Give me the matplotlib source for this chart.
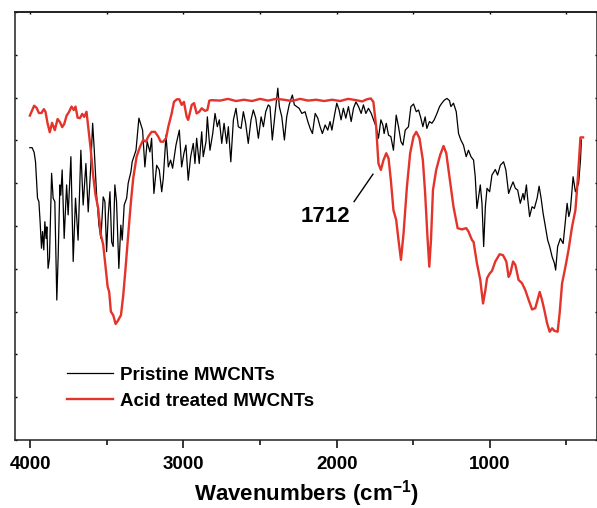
import matplotlib
matplotlib.use("Agg")
import matplotlib.pyplot as plt

plt.rcParams["font.family"] = ["Liberation Sans", "DejaVu Sans"]
plt.rcParams["font.weight"] = "bold"
plt.rcParams["mathtext.fontset"] = "custom"
plt.rcParams["mathtext.rm"] = "Liberation Sans:bold"
plt.rcParams["mathtext.bf"] = "Liberation Sans:bold"

# --- FTIR spectra (wavenumber cm-1, transmittance a.u.) ---
pristine_wn = [4003, 3988, 3975, 3966, 3958, 3953, 3944, 3936, 3927, 3920,
               3912, 3905, 3897, 3892, 3884, 3875, 3861, 3851, 3840, 3827,
               3818, 3807, 3801, 3792, 3779, 3763, 3753, 3735, 3720, 3705,
               3688, 3670, 3655, 3637, 3622, 3605, 3593, 3583, 3567, 3552,
               3539, 3524, 3513, 3502, 3491, 3480, 3469, 3459, 3448, 3437,
               3422, 3409, 3400, 3387, 3371, 3361, 3343, 3335, 3310, 3291,
               3267, 3252, 3237, 3219, 3208, 3193, 3175, 3158, 3142, 3132,
               3114, 3099, 3084, 3071, 3049, 3027, 3012, 2997, 2984, 2969,
               2953, 2936, 2925, 2914, 2897, 2881, 2871, 2853, 2844, 2827,
               2809, 2794, 2779, 2766, 2750, 2735, 2718, 2707, 2691, 2674,
               2657, 2642, 2624, 2609, 2594, 2577, 2559, 2544, 2528, 2511,
               2493, 2478, 2463, 2446, 2435, 2420, 2402, 2384, 2374, 2358,
               2341, 2326, 2310, 2297, 2289, 2276, 2260, 2245, 2227, 2206,
               2188, 2173, 2158, 2140, 2123, 2108, 2093, 2075, 2058, 2043,
               2031, 2014, 1999, 1984, 1971, 1956, 1940, 1923, 1905, 1890,
               1874, 1857, 1840, 1825, 1809, 1792, 1774, 1759, 1742, 1727,
               1711, 1698, 1690, 1676, 1661, 1646, 1629, 1611, 1596, 1580,
               1567, 1552, 1531, 1515, 1498, 1480, 1465, 1450, 1437, 1422,
               1411, 1394, 1378, 1363, 1345, 1328, 1313, 1297, 1280, 1263,
               1254, 1237, 1219, 1204, 1189, 1172, 1154, 1139, 1123, 1106,
               1095, 1084, 1073, 1062, 1051, 1040, 1029, 1018, 1001, 986,
               964, 949, 931, 910, 895, 877, 861, 848, 833, 818,
               801, 783, 775, 761, 753, 740, 724, 709, 691, 678,
               665, 652, 637, 622, 609, 593, 578, 570, 557, 539,
               521, 506, 495, 484, 474, 456, 441, 420, 408, 402]
pristine_t = [68.3, 68.3, 67.2, 65.0, 60.0, 56.5, 55.7, 51.0, 44.8, 48.7,
              44.4, 51.0, 47.1, 49.8, 40.1, 42.4, 62.3, 56.5, 55.7, 32.7,
              43.2, 59.6, 57.2, 63.1, 47.1, 59.6, 52.6, 66.2, 41.7, 56.5,
              46.7, 67.7, 54.9, 64.6, 53.3, 64.2, 74.0, 68.1, 57.2, 50.2,
              47.1, 56.8, 55.7, 44.0, 52.6, 58.0, 46.3, 45.2, 59.6, 55.7,
              40.1, 50.2, 46.7, 54.9, 56.5, 60.0, 62.7, 65.0, 67.7, 75.2,
              72.4, 63.8, 69.7, 67.3, 70.5, 57.6, 64.2, 63.1, 58.0, 61.1,
              71.2, 63.8, 65.4, 63.5, 68.9, 72.4, 63.8, 67.0, 68.9, 60.7,
              66.2, 69.3, 64.6, 70.5, 64.6, 72.0, 66.2, 69.7, 75.5, 67.7,
              71.6, 76.3, 73.2, 74.8, 69.3, 74.0, 69.3, 73.2, 65.0, 74.8,
              77.5, 73.2, 72.8, 76.7, 74.0, 69.3, 74.8, 77.1, 75.2, 70.5,
              75.5, 73.2, 76.7, 78.3, 77.9, 70.1, 76.3, 82.2, 77.9, 75.5,
              70.1, 75.5, 78.3, 79.8, 80.6, 78.3, 77.9, 77.5, 76.3, 76.7,
              74.4, 72.8, 71.6, 76.3, 75.2, 73.2, 71.6, 73.6, 72.4, 74.4,
              72.4, 75.9, 78.7, 77.1, 74.8, 77.5, 75.2, 77.9, 74.4, 77.5,
              79.0, 77.9, 76.3, 78.3, 76.3, 77.5, 76.3, 74.8, 73.2, 70.5,
              74.8, 73.6, 71.6, 74.0, 71.2, 70.9, 67.7, 75.9, 73.2, 69.7,
              68.9, 72.4, 73.2, 77.9, 78.5, 76.7, 77.1, 75.2, 73.2, 75.5,
              72.8, 74.4, 74.0, 74.8, 76.3, 77.9, 78.7, 79.4, 79.8, 79.3,
              77.9, 78.7, 76.7, 71.6, 70.1, 68.9, 66.2, 67.7, 66.2, 65.4,
              61.5, 54.1, 56.8, 59.6, 55.3, 45.2, 54.5, 58.8, 58.0, 61.9,
              63.2, 61.9, 64.2, 65.0, 63.1, 57.6, 59.2, 60.3, 58.8, 58.4,
              55.3, 57.6, 56.1, 59.6, 56.5, 52.2, 54.5, 54.1, 56.5, 59.3,
              56.5, 53.0, 49.8, 46.7, 45.2, 42.8, 41.3, 39.7, 45.2, 47.1,
              45.9, 51.4, 55.3, 52.2, 53.7, 61.5, 58.0, 60.0, 65.4, 70.1]

acid_wn = [4003, 3975, 3959, 3944, 3927, 3912, 3901, 3888, 3873, 3858,
           3840, 3822, 3807, 3792, 3779, 3763, 3748, 3731, 3716, 3705,
           3691, 3676, 3661, 3648, 3633, 3622, 3605, 3590, 3574, 3557,
           3539, 3524, 3508, 3495, 3485, 3474, 3459, 3443, 3426, 3408,
           3393, 3378, 3361, 3343, 3328, 3306, 3284, 3263, 3245, 3230,
           3208, 3186, 3165, 3149, 3132, 3114, 3099, 3077, 3062, 3044,
           3027, 3012, 2997, 2979, 2969, 2946, 2931, 2914, 2897, 2881,
           2859, 2844, 2831, 2816, 2761, 2709, 2657, 2605, 2552, 2500,
           2448, 2395, 2343, 2291, 2239, 2186, 2134, 2082, 2029, 1977,
           1925, 1872, 1833, 1803, 1777, 1760, 1742, 1727, 1711, 1694,
           1676, 1661, 1646, 1629, 1611, 1596, 1580, 1563, 1541, 1520,
           1498, 1480, 1459, 1437, 1422, 1407, 1395, 1384, 1371, 1350,
           1324, 1302, 1284, 1263, 1237, 1210, 1182, 1154, 1139, 1116,
           1106, 1084, 1062, 1044, 1029, 1018, 1001, 986, 964, 936,
           914, 892, 877, 866, 848, 833, 812, 789, 768, 746,
           724, 703, 674, 659, 644, 626, 609, 593, 578, 557,
           544, 528, 506, 486, 463, 441, 426, 408, 391]
acid_t = [75.8, 78.1, 77.6, 76.4, 76.4, 77.3, 76.7, 74.1, 71.9, 74.1,
          72.4, 75.0, 74.3, 73.1, 73.8, 75.8, 76.6, 77.9, 77.1, 77.9,
          75.3, 75.2, 76.2, 75.5, 76.7, 73.2, 67.7, 61.9, 57.2, 54.2,
          47.9, 45.6, 40.2, 35.8, 34.6, 30.0, 29.2, 27.1, 28.0, 29.2,
          33.9, 40.2, 47.9, 55.7, 61.2, 66.2, 68.5, 70.1, 69.7, 70.9,
          72.0, 72.0, 70.9, 69.7, 69.7, 70.5, 73.2, 76.3, 79.0, 79.6,
          79.6, 78.3, 79.0, 75.5, 74.8, 78.3, 78.7, 76.3, 76.7, 77.5,
          76.9, 77.1, 79.3, 79.4, 79.3, 79.7, 79.2, 79.5, 79.2, 79.7,
          79.3, 79.7, 79.5, 79.2, 79.7, 79.3, 79.5, 79.2, 79.5, 79.2,
          79.7, 79.4, 79.1, 79.6, 79.8, 79.0, 73.2, 64.6, 63.1, 65.4,
          67.0, 65.8, 60.7, 53.7, 51.4, 46.7, 42.1, 48.3, 59.2, 67.0,
          70.9, 72.0, 70.5, 65.4, 57.6, 47.5, 40.5, 46.7, 58.4, 63.1,
          66.6, 68.7, 67.0, 61.5, 54.5, 49.5, 49.2, 49.5, 48.7, 46.7,
          46.3, 41.3, 37.4, 31.9, 35.0, 37.8, 38.9, 39.5, 41.7, 43.4,
          43.2, 41.7, 38.1, 38.9, 41.7, 40.9, 37.4, 36.6, 35.0, 32.7,
          30.5, 30.8, 34.6, 32.7, 30.4, 27.3, 25.3, 26.1, 25.5, 25.3,
          29.6, 36.6, 40.5, 44.4, 49.8, 53.7, 60.7, 70.7, 70.7]

labels = ["Pristine MWCNTs", "Acid treated MWCNTs"]
peak_label = "1712"

RED = "#e4332a"

fig = plt.figure(figsize=(5.97, 5.08), dpi=100)
ax = fig.add_axes([15 / 597, 1 - 440 / 508, 582 / 597, 428 / 508])

ax.plot(pristine_wn, pristine_t, color="black", lw=0.9, label=labels[0])
ax.plot(acid_wn, acid_t, color=RED, lw=1.7, label=labels[1])

# annotation for the C=O band
ax.plot([1886, 1763], [55.7, 62.1], color="black", lw=1.0)
ax.text(2072, 52.3, peak_label, ha="center", va="center", fontsize=16, fontweight="bold")

ax.set_xlim(4100, 300)
ax.set_ylim(0, 100)

ax.set_xticks([4000, 3000, 2000, 1000])
ax.set_xticks([3500, 2500, 1500, 500], minor=True)
ax.set_yticks(range(0, 101, 10))
ax.tick_params(axis="x", which="major", direction="out", length=5.8, width=1.1,
               labelsize=13.5, pad=6)
ax.tick_params(axis="x", which="minor", direction="out", length=3.6, width=1.1)
ax.tick_params(axis="y", which="both", left=True, right=True, direction="in",
               length=1.6, width=1.0, labelleft=False)

top = ax.secondary_xaxis("top")
top.set_xticks([4000, 3500, 3000, 2500, 2000, 1500, 1000, 500])
top.tick_params(direction="in", length=1.6, width=1.0, labeltop=False)

for sp in ax.spines.values():
    sp.set_linewidth(1.1)
    sp.set_color("#222222")
top.spines["top"].set_linewidth(1.1)

ax.set_xlabel(r"Wavenumbers (cm$^{-1}$)", fontsize=16, fontweight="bold", labelpad=3.5)

ax.legend(loc="upper left", bbox_to_anchor=(0.089, 0.171), frameon=False,
          handlelength=2.45, handletextpad=0.37, labelspacing=0.46,
          borderaxespad=0, borderpad=0, prop={"weight": "bold", "size": 13.5})

fig.savefig("out.png", dpi=100)
